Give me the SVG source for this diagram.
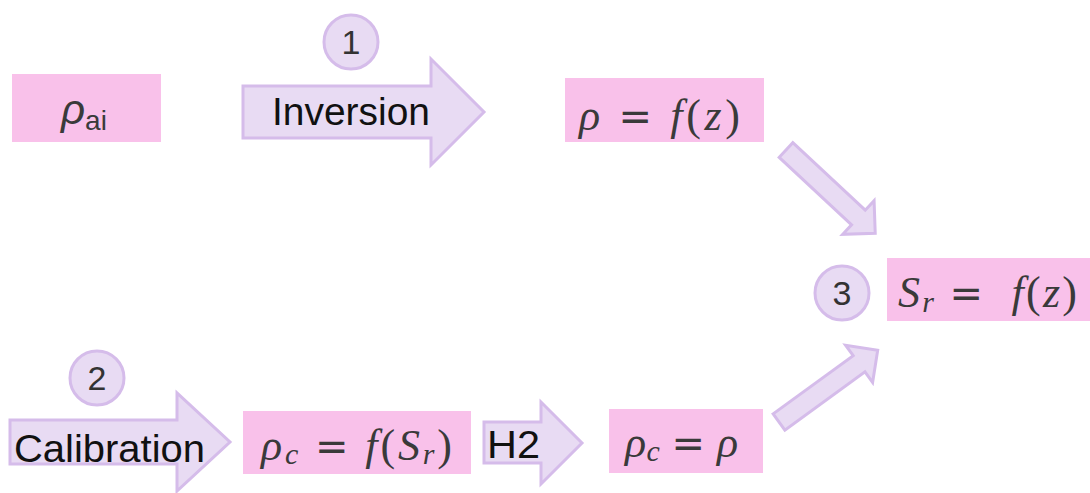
<svg xmlns="http://www.w3.org/2000/svg" width="1090" height="493" viewBox="0 0 1090 493">
<style>
.box{fill:#F9C1EA;stroke:none}
.arr{fill:#E8DBF3;stroke:#D5BCEA;stroke-width:3;stroke-linejoin:miter}
.circ{fill:#E8DBF3;stroke:#D5BCEA;stroke-width:3}
.lbl{font-family:"Liberation Sans",Arial,sans-serif;font-size:38px;fill:#111}
.num{font-family:"Liberation Sans",Arial,sans-serif;font-size:34px;fill:#333;text-anchor:middle}
.math{font-family:"Liberation Serif","DejaVu Serif",serif;font-size:44px;fill:#3a3a3a;white-space:pre}
.it{font-style:italic}
.eq{font-family:"DejaVu Sans",sans-serif;font-size:40px}
</style>
<defs>
<path id="diag" d="M0,-10 H99 V-23 L122,0 L99,23 V10 H0 Z"/>
</defs>
<rect width="1090" height="493" fill="#fff"/>
<g id="connectors">
<g id="arrow-inversion">
<path class="arr" d="M243,86 H431 V59 L484,112 L431,165 V138 H243 Z"/>
<text class="lbl" x="272" y="125" textLength="158" lengthAdjust="spacingAndGlyphs">Inversion</text>
</g>
<g id="arrow-calibration">
<path class="arr" d="M10,420 H177 V393 L230,442 L177,491 V464 H10 Z"/>
<text class="lbl" x="14" y="462" textLength="191" lengthAdjust="spacingAndGlyphs">Calibration</text>
</g>
<g id="arrow-h2">
<path class="arr" d="M484,422 H541 V402 L582,443 L541,484 V463 H484 Z"/>
<text class="lbl" x="487" y="458" textLength="53" lengthAdjust="spacingAndGlyphs">H2</text>
</g>
<use class="arr" href="#diag" transform="translate(786,150) rotate(43)"/>
<use class="arr" href="#diag" transform="translate(779,422) rotate(-36)"/>
</g>
<g id="step1">
<circle class="circ" cx="351" cy="42" r="27"/>
<text class="num" x="351" y="54">1</text>
</g>
<g id="step2">
<circle class="circ" cx="97" cy="378" r="27"/>
<text class="num" x="97" y="390">2</text>
</g>
<g id="step3">
<circle class="circ" cx="842" cy="293" r="27"/>
<text class="num" x="842" y="305">3</text>
</g>
<g id="node-rho-ai">
<rect class="box" x="12" y="74" width="149" height="68"/>
<text x="61" y="124" style="font-family:'Liberation Sans',Arial,sans-serif;font-size:42px;fill:#3a3a3a"><tspan font-style="italic">ρ</tspan><tspan font-size="28" dy="6">ai</tspan></text>
</g>
<g id="node-rho-fz">
<rect class="box" x="565" y="78" width="199" height="64"/>
<text class="math" x="579" y="130" textLength="161" lengthAdjust="spacing"><tspan class="it">ρ</tspan> <tspan class="eq">=</tspan> <tspan class="it">f</tspan>(<tspan class="it">z</tspan>)</text>
</g>
<g id="node-sr-fz">
<rect class="box" x="887" y="258" width="203" height="63"/>
<text class="math" x="898" y="307" textLength="179" lengthAdjust="spacing"><tspan class="it">S</tspan><tspan class="it" font-size="30" dy="5">r</tspan><tspan dy="-5"> </tspan><tspan class="eq">=</tspan>  <tspan class="it">f</tspan>(<tspan class="it">z</tspan>)</text>
</g>
<g id="node-rhoc-fsr">
<rect class="box" x="243" y="411" width="228" height="63"/>
<text class="math" x="261" y="460" textLength="191" lengthAdjust="spacing"><tspan class="it">ρ</tspan><tspan class="it" font-size="30" dy="4">c</tspan><tspan dy="-4"> </tspan><tspan class="eq">=</tspan> <tspan class="it">f</tspan>(<tspan class="it">S</tspan><tspan class="it" font-size="30" dy="4">r</tspan><tspan dy="-4">)</tspan></text>
</g>
<g id="node-rhoc-rho">
<rect class="box" x="609" y="409" width="154" height="64"/>
<text class="math" x="625" y="457" textLength="113" lengthAdjust="spacing"><tspan class="it">ρ</tspan><tspan class="it" font-size="30" dy="4">c</tspan><tspan dy="-4"> </tspan><tspan class="eq">=</tspan> <tspan class="it">ρ</tspan></text>
</g>
</svg>
